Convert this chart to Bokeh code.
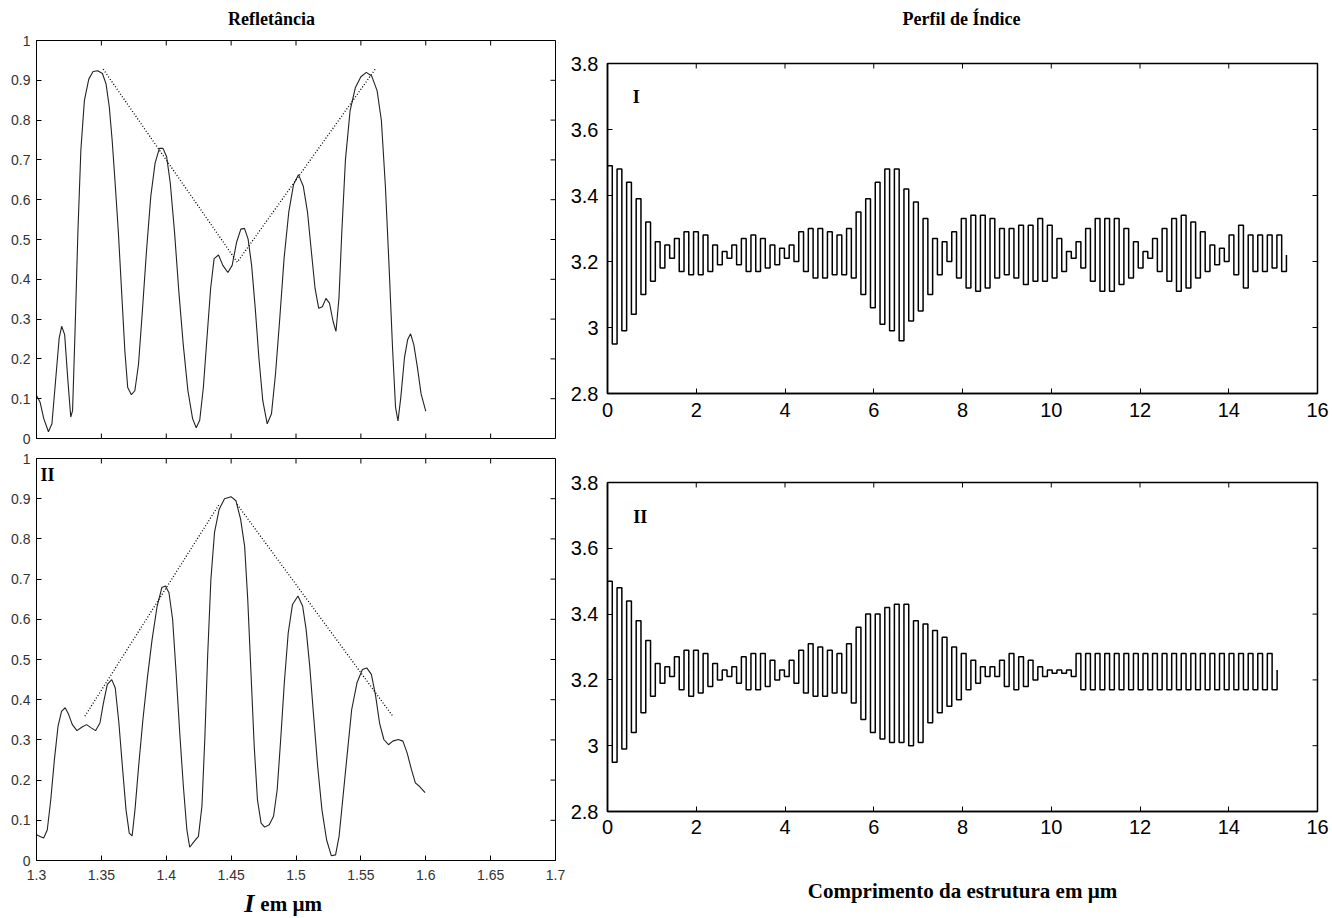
from bokeh.plotting import figure
from bokeh.layouts import row, column
from bokeh.models import FixedTicker
from bokeh.embed import file_html
from bokeh.resources import INLINE
from bokeh.core.properties import value

# ---------------- data: reflectance (left panels) ----------------
wl_I = [1.3000, 1.3028, 1.3056, 1.3092, 1.3119, 1.3147, 1.3175, 1.3194, 1.3217, 1.3242,
        1.3264, 1.3278, 1.3297, 1.3319, 1.3342, 1.3369, 1.3403, 1.3436, 1.3472, 1.3508,
        1.3536, 1.3561, 1.3583, 1.3606, 1.3631, 1.3656, 1.3681, 1.3703, 1.3731, 1.3758,
        1.3786, 1.3814, 1.3847, 1.3881, 1.3914, 1.3947, 1.3975, 1.4003, 1.4031, 1.4064,
        1.4097, 1.4131, 1.4167, 1.4203, 1.4231, 1.4258, 1.4286, 1.4314, 1.4342, 1.4369,
        1.4403, 1.4436, 1.4475, 1.4508, 1.4542, 1.4575, 1.4603, 1.4631, 1.4658, 1.4686,
        1.4714, 1.4744, 1.4778, 1.4811, 1.4842, 1.4875, 1.4908, 1.4944, 1.4981, 1.5019,
        1.5056, 1.5089, 1.5119, 1.5147, 1.5175, 1.5203, 1.5231, 1.5258, 1.5286, 1.5308,
        1.5331, 1.5353, 1.5381, 1.5417, 1.5458, 1.5500, 1.5542, 1.5583, 1.5625, 1.5658,
        1.5689, 1.5717, 1.5744, 1.5767, 1.5786, 1.5808, 1.5836, 1.5861, 1.5883, 1.5908,
        1.5936, 1.5964, 1.6000]
R_I = [0.108, 0.091, 0.050, 0.017, 0.037, 0.145, 0.253, 0.282, 0.261, 0.145,
       0.054, 0.070, 0.269, 0.518, 0.725, 0.849, 0.903, 0.922, 0.924, 0.917,
       0.891, 0.833, 0.750, 0.642, 0.518, 0.369, 0.220, 0.128, 0.110, 0.120,
       0.186, 0.311, 0.468, 0.609, 0.692, 0.729, 0.729, 0.708, 0.642, 0.518,
       0.369, 0.236, 0.120, 0.050, 0.027, 0.046, 0.128, 0.253, 0.377, 0.452,
       0.461, 0.435, 0.417, 0.435, 0.493, 0.526, 0.528, 0.501, 0.435, 0.327,
       0.203, 0.095, 0.037, 0.062, 0.162, 0.302, 0.452, 0.568, 0.638, 0.663,
       0.634, 0.568, 0.468, 0.377, 0.327, 0.331, 0.352, 0.340, 0.294, 0.269,
       0.352, 0.518, 0.700, 0.824, 0.882, 0.909, 0.920, 0.911, 0.874, 0.799,
       0.634, 0.435, 0.228, 0.079, 0.044, 0.104, 0.203, 0.249, 0.263, 0.236,
       0.178, 0.112, 0.069]

wl_II = [1.3000, 1.3028, 1.3055, 1.3083, 1.3110, 1.3138, 1.3166, 1.3193, 1.3221, 1.3248,
         1.3276, 1.3312, 1.3351, 1.3386, 1.3422, 1.3455, 1.3489, 1.3516, 1.3546, 1.3580,
         1.3607, 1.3635, 1.3662, 1.3690, 1.3715, 1.3737, 1.3759, 1.3787, 1.3820, 1.3856,
         1.3891, 1.3930, 1.3966, 1.3994, 1.4021, 1.4049, 1.4076, 1.4104, 1.4132, 1.4159,
         1.4181, 1.4214, 1.4248, 1.4275, 1.4297, 1.4319, 1.4344, 1.4372, 1.4408, 1.4449,
         1.4499, 1.4537, 1.4573, 1.4604, 1.4628, 1.4653, 1.4678, 1.4703, 1.4731, 1.4758,
         1.4794, 1.4827, 1.4855, 1.4882, 1.4910, 1.4940, 1.4973, 1.5015, 1.5051, 1.5078,
         1.5106, 1.5134, 1.5167, 1.5200, 1.5236, 1.5272, 1.5305, 1.5332, 1.5360, 1.5393,
         1.5429, 1.5470, 1.5512, 1.5545, 1.5581, 1.5614, 1.5644, 1.5677, 1.5713, 1.5746,
         1.5788, 1.5824, 1.5857, 1.5890, 1.5920, 1.5953, 1.5995]
R_II = [0.064, 0.060, 0.056, 0.076, 0.151, 0.251, 0.334, 0.371, 0.380, 0.363,
        0.338, 0.323, 0.332, 0.338, 0.330, 0.323, 0.342, 0.392, 0.438, 0.450,
        0.429, 0.342, 0.234, 0.126, 0.068, 0.061, 0.126, 0.234, 0.350, 0.458,
        0.550, 0.633, 0.679, 0.683, 0.666, 0.600, 0.467, 0.317, 0.184, 0.076,
        0.033, 0.047, 0.060, 0.135, 0.301, 0.508, 0.699, 0.816, 0.874, 0.900,
        0.905, 0.895, 0.849, 0.782, 0.650, 0.467, 0.284, 0.151, 0.093, 0.083,
        0.089, 0.110, 0.176, 0.301, 0.442, 0.566, 0.637, 0.658, 0.633, 0.575,
        0.483, 0.367, 0.234, 0.126, 0.051, 0.012, 0.014, 0.060, 0.151, 0.259,
        0.375, 0.442, 0.475, 0.479, 0.463, 0.409, 0.342, 0.301, 0.288, 0.297,
        0.301, 0.297, 0.267, 0.226, 0.193, 0.184, 0.169]

# dotted envelope lines
env_I_x = [1.3514, 1.4547, 1.5611]
env_I_y = [0.928, 0.443, 0.928]
env_IIa_x = [1.3373, 1.4408]
env_IIa_y = [0.359, 0.886]
env_IIb_x = [1.4546, 1.5746]
env_IIb_y = [0.886, 0.359]

# ---------------- data: index profile (right panels) ----------------
period_um = 0.2155
peaks_I = [3.49, 3.48, 3.44, 3.39, 3.32, 3.26, 3.25, 3.27, 3.29, 3.29,
           3.28, 3.25, 3.23, 3.25, 3.27, 3.28, 3.27, 3.25, 3.24, 3.25,
           3.29, 3.30, 3.30, 3.29, 3.28, 3.30, 3.35, 3.39, 3.44, 3.48,
           3.48, 3.42, 3.38, 3.33, 3.27, 3.26, 3.29, 3.33, 3.34, 3.34,
           3.33, 3.30, 3.30, 3.31, 3.31, 3.33, 3.31, 3.27, 3.23, 3.26,
           3.30, 3.33, 3.33, 3.33, 3.30, 3.26, 3.23, 3.27, 3.30, 3.33,
           3.34, 3.32, 3.29, 3.25, 3.24, 3.28, 3.31, 3.28, 3.28, 3.28, 3.28]
troughs_I = [2.95, 2.99, 3.04, 3.10, 3.14, 3.18, 3.21, 3.17, 3.16, 3.16,
             3.17, 3.19, 3.21, 3.19, 3.17, 3.17, 3.18, 3.19, 3.21, 3.20,
             3.17, 3.15, 3.15, 3.16, 3.16, 3.15, 3.10, 3.06, 3.01, 2.99,
             2.96, 3.02, 3.05, 3.10, 3.16, 3.20, 3.15, 3.12, 3.11, 3.12,
             3.15, 3.16, 3.15, 3.13, 3.14, 3.14, 3.15, 3.17, 3.21, 3.18,
             3.14, 3.11, 3.11, 3.13, 3.15, 3.18, 3.21, 3.17, 3.14, 3.11,
             3.12, 3.15, 3.17, 3.19, 3.20, 3.16, 3.12, 3.17, 3.17, 3.18, 3.17]
end_I = (15.30, 3.22)

peaks_II = [3.50, 3.48, 3.44, 3.38, 3.32, 3.25, 3.24, 3.27, 3.29, 3.29,
            3.28, 3.25, 3.23, 3.24, 3.27, 3.28, 3.28, 3.26, 3.23, 3.26,
            3.29, 3.31, 3.30, 3.29, 3.28, 3.31, 3.36, 3.40, 3.40, 3.42,
            3.43, 3.43, 3.38, 3.37, 3.35, 3.33, 3.30, 3.28, 3.26, 3.24,
            3.24, 3.26, 3.28, 3.27, 3.26, 3.24, 3.23, 3.23, 3.23, 3.28,
            3.28, 3.28, 3.28, 3.28, 3.28, 3.28, 3.28, 3.28, 3.28, 3.28,
            3.28, 3.28, 3.28, 3.28, 3.28, 3.28, 3.28, 3.28, 3.28, 3.28]
troughs_II = [2.95, 2.99, 3.04, 3.10, 3.15, 3.19, 3.21, 3.17, 3.15, 3.16,
              3.18, 3.20, 3.21, 3.19, 3.17, 3.17, 3.18, 3.20, 3.21, 3.19,
              3.16, 3.15, 3.15, 3.16, 3.16, 3.13, 3.08, 3.04, 3.02, 3.01,
              3.01, 3.00, 3.01, 3.07, 3.10, 3.12, 3.14, 3.17, 3.19, 3.21,
              3.21, 3.18, 3.17, 3.18, 3.20, 3.21, 3.22, 3.22, 3.21, 3.17,
              3.17, 3.17, 3.17, 3.17, 3.17, 3.17, 3.17, 3.17, 3.17, 3.17,
              3.17, 3.17, 3.17, 3.17, 3.17, 3.17, 3.17, 3.17, 3.17, 3.17]
end_II = (15.09, 3.23)

# ---------------- ticks ----------------
refl_xticks = [1.3, 1.35, 1.4, 1.45, 1.5, 1.55, 1.6, 1.65, 1.7]
refl_xlabels = ["1.3", "1.35", "1.4", "1.45", "1.5", "1.55", "1.6", "1.65", "1.7"]
refl_yticks = [0, 0.1, 0.2, 0.3, 0.4, 0.5, 0.6, 0.7, 0.8, 0.9, 1]
refl_ylabels = ["0", "0.1", "0.2", "0.3", "0.4", "0.5", "0.6", "0.7", "0.8", "0.9", "1"]
idx_xticks = [0, 2, 4, 6, 8, 10, 12, 14, 16]
idx_xlabels = ["0", "2", "4", "6", "8", "10", "12", "14", "16"]
idx_yticks = [2.8, 3, 3.2, 3.4, 3.6, 3.8]
idx_ylabels = ["2.8", "3", "3.2", "3.4", "3.6", "3.8"]

SERIF = "Liberation Serif"
SANS = "Liberation Sans"
TICK = 5  # px, inward tick length


def step_xy(peaks, troughs, period, end):
    xs, ys = [], []
    for k, (a, b) in enumerate(zip(peaks, troughs)):
        x0 = k * period
        xs += [x0, x0 + period / 2]
        ys += [a, b]
    xs.append(end[0])
    ys.append(end[1])
    return xs, ys


def make_fig(w, h, xr, yr, bl, br, bt, bb, xaxis=True, lw=1):
    p = figure(width=w, height=h, x_range=xr, y_range=yr, output_backend="svg",
               toolbar_location=None, min_border_left=bl, min_border_right=br,
               min_border_top=bt, min_border_bottom=bb,
               x_axis_type="linear" if xaxis else None)
    p.grid.visible = False
    p.outline_line_color = "black"
    p.outline_line_width = lw
    p.background_fill_color = "white"
    p.border_fill_color = "white"
    return p


def style_axis(ax, ticks, labels, fs, color, standoff, lw=1):
    ax.ticker = FixedTicker(ticks=ticks)
    ax.major_label_overrides = dict(zip(ticks, labels))
    ax.major_tick_in = TICK
    ax.major_tick_out = 0
    ax.minor_tick_line_color = None
    ax.axis_line_color = "black"
    ax.axis_line_width = lw
    ax.major_tick_line_color = "black"
    ax.major_label_text_font = SANS
    ax.major_label_text_color = color
    ax.major_label_text_font_size = fs
    ax.major_label_standoff = standoff


def frame_ticks(p, xr, yr, fw, fh, xticks, yticks, sides):
    dx = TICK * (xr[1] - xr[0]) / fw
    dy = TICK * (yr[1] - yr[0]) / fh
    x0, y0, x1, y1 = [], [], [], []
    if "top" in sides:
        for t in xticks:
            x0.append(t); x1.append(t); y0.append(yr[1]); y1.append(yr[1] - dy)
    if "bottom" in sides:
        for t in xticks:
            x0.append(t); x1.append(t); y0.append(yr[0]); y1.append(yr[0] + dy)
    if "right" in sides:
        for t in yticks:
            y0.append(t); y1.append(t); x0.append(xr[1]); x1.append(xr[1] - dx)
    p.segment(x0=x0, y0=y0, x1=x1, y1=y1, line_color="black", line_width=1)


def bare_fig(w, h, xr, yr, bl, br):
    p = figure(width=w, height=h, x_range=xr, y_range=yr, output_backend="svg",
               toolbar_location=None, x_axis_type=None, y_axis_type=None,
               min_border_left=bl, min_border_right=br, min_border_top=0,
               min_border_bottom=0)
    p.grid.visible = False
    p.outline_line_color = None
    p.background_fill_color = "white"
    p.border_fill_color = "white"
    return p


LW, RW = 565, 767
RX, RY = (1.3, 1.7), (0, 1)
IX, IY = (0, 16), (2.8, 3.8)

# ---------------- header with the two titles ----------------
header = bare_fig(1332, 30, (0, 1332), (0, 30), 0, 0)
header.text(x=[271, 961], y=[12, 12], text=["Refletância", "Perfil de Índice"],
            text_font=value(SERIF), text_font_style="bold", text_font_size="18px",
            text_align="center", text_baseline="middle", text_color="black")

# ---------------- left panels ----------------
lt = make_fig(LW, 418, RX, RY, 36, 10, 10, 10, xaxis=False)
style_axis(lt.yaxis[0], refl_yticks, refl_ylabels, "14px", "#333333", 6)
frame_ticks(lt, RX, RY, 519, 398, refl_xticks, refl_yticks, ("top", "bottom", "right"))
lt.line(wl_I, R_I, line_color="#222222", line_width=1.1)
lt.line(env_I_x, env_I_y, line_color="black", line_width=1.3, line_dash="1 2")

lb = make_fig(LW, 438, RX, RY, 36, 10, 10, 26)
style_axis(lb.below[0], refl_xticks, refl_xlabels, "14px", "#333333", 9)
style_axis(lb.yaxis[0], refl_yticks, refl_ylabels, "14px", "#333333", 6)
frame_ticks(lb, RX, RY, 519, 402, refl_xticks, refl_yticks, ("top", "right"))
lb.line(wl_II, R_II, line_color="#222222", line_width=1.1)
lb.line(env_IIa_x, env_IIa_y, line_color="black", line_width=1.3, line_dash="1 2")
lb.line(env_IIb_x, env_IIb_y, line_color="black", line_width=1.3, line_dash="1 2")
lb.text(x=[1.3085], y=[0.958], text=["II"], text_font=value(SERIF), text_font_style="bold",
        text_font_size="18px", text_align="center", text_baseline="middle")

footer = bare_fig(LW, 32, RX, (0, 32), 36, 10)
footer.text(x=[1.4640], y=[15], text=["I"], text_font=value(SERIF),
            text_font_style="bold italic", text_font_size="26px",
            text_align="center", text_baseline="middle")
footer.text(x=[1.4725], y=[15], text=["em µm"], text_font=value(SERIF),
            text_font_style="bold", text_font_size="21px",
            text_align="left", text_baseline="middle")

# ---------------- right panels ----------------
rt = make_fig(RW, 404, IX, IY, 42, 15, 33, 41, lw=1.5)
style_axis(rt.below[0], idx_xticks, idx_xlabels, "20px", "black", 9, lw=1.5)
style_axis(rt.yaxis[0], idx_yticks, idx_ylabels, "20px", "black", 9, lw=1.5)
frame_ticks(rt, IX, IY, 710, 330, idx_xticks, idx_yticks, ("top", "right"))
xs, ys = step_xy(peaks_I, troughs_I, period_um, end_I)
rt.step(xs, ys, mode="after", line_color="black", line_width=1.5)
rt.text(x=[0.65], y=[3.697], text=["I"], text_font=value(SERIF), text_font_style="bold",
        text_font_size="18px", text_align="center", text_baseline="middle")

rb = make_fig(RW, 484, IX, IY, 42, 15, 48, 107, lw=1.5)
style_axis(rb.below[0], idx_xticks, idx_xlabels, "20px", "black", 8, lw=1.5)
style_axis(rb.yaxis[0], idx_yticks, idx_ylabels, "20px", "black", 9, lw=1.5)
frame_ticks(rb, IX, IY, 710, 329, idx_xticks, idx_yticks, ("top", "right"))
rb.below[0].axis_label = "Comprimento da estrutura em µm"
rb.below[0].axis_label_text_font = SERIF
rb.below[0].axis_label_text_font_style = "bold"
rb.below[0].axis_label_text_font_size = "21px"
rb.below[0].axis_label_text_color = "black"
rb.below[0].axis_label_standoff = 42
xs2, ys2 = step_xy(peaks_II, troughs_II, period_um, end_II)
rb.step(xs2, ys2, mode="after", line_color="black", line_width=1.5)
rb.text(x=[0.74], y=[3.694], text=["II"], text_font=value(SERIF), text_font_style="bold",
        text_font_size="18px", text_align="center", text_baseline="middle")

layout = column(header, row(column(lt, lb, footer), column(rt, rb)))
open("out.html", "w").write(file_html(layout, INLINE))
